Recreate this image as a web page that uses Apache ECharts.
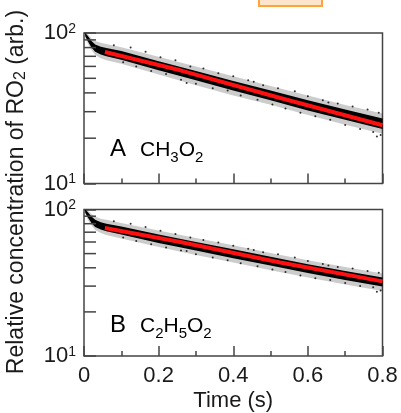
<!DOCTYPE html>
<html><head><meta charset="utf-8">
<script src="https://cdn.jsdelivr.net/npm/echarts@6/dist/echarts.min.js"></script>
<style>html,body{margin:0;padding:0;background:#fff}#c{width:401px;height:413px}</style>
</head><body><div id="c"></div>
<script>
// ---- data ----
const bandT = [0.003, 0.01, 0.02, 0.03, 0.045, 0.06, 0.1, 0.2, 0.3, 0.4, 0.5, 0.6, 0.7, 0.8];
// Panel A (CH3O2): dense band and sparse outer band
const bandAUpper = [100, 96, 88.5, 84, 81, 79.5, 76, 65, 56, 48, 41.5, 35.8, 31, 27];
const bandALower = [95.5, 88.5, 80, 75, 72, 70, 66.5, 56.5, 48.5, 41.5, 35.8, 30.6, 26.5, 23];
const outerAUpper = [100, 98.5, 92, 88.5, 86, 84.5, 80.5, 69.5, 60, 51.5, 44.5, 38.5, 33.2, 29.2];
const outerALower = [93.5, 85, 77, 71.5, 68, 66, 62.5, 53, 45, 38.5, 33.3, 28.5, 24.6, 21.4];
// Panel B (C2H5O2)
const bandBUpper = [100, 96, 89.5, 85, 82, 80, 76.5, 67.5, 60, 53.5, 47.5, 42.3, 38, 34.3];
const bandBLower = [95.5, 88.5, 81, 76, 73, 71, 67.5, 59, 52.5, 46.5, 41.5, 36.8, 33, 29.8];
const outerBUpper = [100, 98.5, 93, 89.5, 86.5, 85, 81, 72, 64, 57, 50.5, 45, 40.5, 36.5];
const outerBLower = [93.5, 85, 78, 72.5, 69, 67, 63.5, 55.5, 49, 43.5, 38.5, 34.3, 30.8, 27.8];
// fitted (red) lines
const fitT = [0.056, 0.258, 0.526, 0.8];
const fitA = [74.7, 56.5, 37, 24.4];
const fitB = [74.8, 60, 43.5, 32.3];
// scattered outlying points
const speckA = [[0.08,83],[0.105,64],[0.125,80],[0.14,60],[0.165,75],[0.18,56],[0.205,69],[0.22,53.5],[0.245,66],[0.26,49],[0.285,60],[0.3,46],[0.32,58],[0.345,43],[0.36,54],[0.385,41.5],[0.4,51.5],[0.42,38.5],[0.44,48.5],[0.465,36],[0.48,45],[0.505,33.5],[0.52,43],[0.54,31.5],[0.565,41],[0.58,29.5],[0.6,38],[0.62,28],[0.64,35.8],[0.66,26.5],[0.68,34],[0.7,24.5],[0.72,32.5],[0.74,23],[0.76,31],[0.775,22],[0.79,29.5],[0.795,21],[0.785,20.5],[0.655,34.5],[0.455,47.5],[0.275,46.5]];
const speckB = [[0.08,83],[0.105,64.5],[0.125,80],[0.14,61],[0.165,76],[0.18,58],[0.205,71.5],[0.22,55],[0.245,68],[0.26,52.5],[0.285,64.5],[0.3,49.5],[0.32,62],[0.345,47],[0.36,59.5],[0.385,45],[0.4,56.5],[0.42,43],[0.44,54],[0.465,41],[0.48,51],[0.505,39],[0.52,49.5],[0.54,37.5],[0.565,47],[0.58,35.5],[0.6,44.5],[0.62,34],[0.64,42.5],[0.66,33],[0.68,40.5],[0.7,31.5],[0.72,39.5],[0.74,30],[0.76,38],[0.775,29.5],[0.79,37],[0.795,28],[0.785,27.5],[0.655,41.5],[0.455,53],[0.275,52]];
const yMinorTicks = [20, 30, 40, 50, 60, 70, 80, 90];
const yTickSup = {10: '1', 100: '2'};
const panelLetters = ['A', 'B'];
const xName = 'Time (s)';

// ---- chart ----
const FONT = 'Liberation Sans';
const FRAME = '#444';
const TXT = '#1a1a1a';
const chart = echarts.init(document.getElementById('c'), null, {renderer: 'canvas'});

function zip(t, v) { return t.map((x, i) => [x, v[i]]); }

function bandSeries(idx, upper, lower, color) {
  return {
    type: 'custom', xAxisIndex: idx, yAxisIndex: idx, clip: true, silent: true, z: 2,
    data: [[0.4, 50]],
    renderItem: (params, api) => {
      const pts = [];
      for (let i = 0; i < bandT.length; i++) pts.push(api.coord([bandT[i], upper[i]]));
      for (let i = bandT.length - 1; i >= 0; i--) pts.push(api.coord([bandT[i], lower[i]]));
      return {type: 'polygon', shape: {points: pts}, style: {fill: color}};
    }
  };
}
function minorTickSeries(idx) {
  return {
    type: 'custom', xAxisIndex: idx, yAxisIndex: idx, clip: false, silent: true, z: 5,
    data: yMinorTicks.map(v => [0, v]),
    renderItem: (params, api) => {
      const p = api.coord([api.value(0), api.value(1)]);
      return {type: 'line', shape: {x1: p[0], y1: p[1], x2: p[0] + 12, y2: p[1]},
              style: {stroke: FRAME, lineWidth: 1.5}};
    }
  };
}
function xAxis(idx, showLabels) {
  return {
    type: 'value', gridIndex: idx, min: 0, max: 0.8, interval: 0.2,
    axisLine: {show: false},
    axisTick: {show: true, inside: true, length: 10, lineStyle: {color: FRAME, width: 1.5}},
    minorTick: {show: true, splitNumber: 2, length: 5, lineStyle: {color: FRAME, width: 1.5}},
    splitLine: {show: false},
    axisLabel: {show: showLabels, fontFamily: FONT, fontSize: 22, color: TXT, margin: 9,
                formatter: v => (v === 0 ? '0' : String(+v.toFixed(1)))},
    name: showLabels ? xName : '', nameLocation: 'middle', nameGap: 34,
    nameTextStyle: {fontFamily: FONT, fontSize: 22, color: TXT}
  };
}
function yAxis(idx) {
  return {
    type: 'log', logBase: 10, gridIndex: idx, min: 10, max: 100,
    axisLine: {show: false},
    axisTick: {show: true, inside: true, length: 12, lineStyle: {color: FRAME, width: 1.5}},
    splitLine: {show: false},
    axisLabel: {
      fontFamily: FONT, color: TXT, margin: 8,
      formatter: v => '{b|10}{p|' + yTickSup[Math.round(v)] + '}',
      rich: {
        b: {fontFamily: FONT, fontSize: 22, lineHeight: 22, verticalAlign: 'bottom', color: TXT},
        p: {fontFamily: FONT, fontSize: 14, lineHeight: 14, verticalAlign: 'top', color: TXT}
      }
    }
  };
}
const lineStyleRed = {color: '#ff1010', width: 4};

const labelRich = {
  a: {fontFamily: FONT, fontSize: 24, lineHeight: 24, verticalAlign: 'bottom', padding: [0, 0, 4, 0], color: TXT},
  m: {fontFamily: FONT, fontSize: 21, lineHeight: 21, verticalAlign: 'bottom', padding: [0, 0, 4, 0], color: TXT},
  g: {fontFamily: FONT, fontSize: 21, lineHeight: 21, verticalAlign: 'bottom', padding: [0, 0, 4, 14], color: TXT},
  s: {fontFamily: FONT, fontSize: 15, lineHeight: 15, verticalAlign: 'bottom', color: TXT}
};

chart.setOption({
  animation: false,
  backgroundColor: '#fff',
  grid: [
    {left: 84, top: 33, width: 298.5, height: 150.5, show: true, borderColor: FRAME, borderWidth: 1.5, backgroundColor: 'transparent'},
    {left: 84, top: 209.5, width: 298.5, height: 147.5, show: true, borderColor: FRAME, borderWidth: 1.5, backgroundColor: 'transparent'}
  ],
  xAxis: [xAxis(0, false), xAxis(1, true)],
  yAxis: [yAxis(0), yAxis(1)],
  graphic: [
    {type: 'rect', shape: {x: 259, y: -10, width: 63, height: 16}, style: {fill: '#fde5cc', stroke: '#ffa33a', lineWidth: 2}, z: 10},
    {type: 'text', x: 17, y: 192, rotation: Math.PI / 2, z: 10,
     style: {text: 'Relative concentration of RO{s|2} (arb.)', fontFamily: FONT, fontSize: 23, fill: TXT,
             align: 'center', verticalAlign: 'middle',
             rich: {s: {fontFamily: FONT, fontSize: 16, verticalAlign: 'bottom', padding: [8, 0, 0, 0], fill: TXT}}}},
    {type: 'text', x: 110, y: 141, z: 10,
     style: {text: '{a|' + panelLetters[0] + '}{g|CH}{s|3}{m|O}{s|2}', rich: labelRich}},
    {type: 'text', x: 110, y: 317, z: 10,
     style: {text: '{a|' + panelLetters[1] + '}{g|C}{s|2}{m|H}{s|5}{m|O}{s|2}', rich: labelRich}}
  ],
  series: [
    bandSeries(0, outerAUpper, outerALower, 'rgba(0,0,0,0.2)'),
    bandSeries(0, bandAUpper, bandALower, '#000'),
    {type: 'scatter', xAxisIndex: 0, yAxisIndex: 0, data: speckA, symbolSize: 2, itemStyle: {color: '#000'}, z: 3, silent: true},
    {type: 'line', xAxisIndex: 0, yAxisIndex: 0, data: zip(fitT, fitA), showSymbol: false, lineStyle: lineStyleRed, z: 4, silent: true},
    minorTickSeries(0),
    bandSeries(1, outerBUpper, outerBLower, 'rgba(0,0,0,0.2)'),
    bandSeries(1, bandBUpper, bandBLower, '#000'),
    {type: 'scatter', xAxisIndex: 1, yAxisIndex: 1, data: speckB, symbolSize: 2, itemStyle: {color: '#000'}, z: 3, silent: true},
    {type: 'line', xAxisIndex: 1, yAxisIndex: 1, data: zip(fitT, fitB), showSymbol: false, lineStyle: lineStyleRed, z: 4, silent: true},
    minorTickSeries(1)
  ]
});
</script>
</body></html>
